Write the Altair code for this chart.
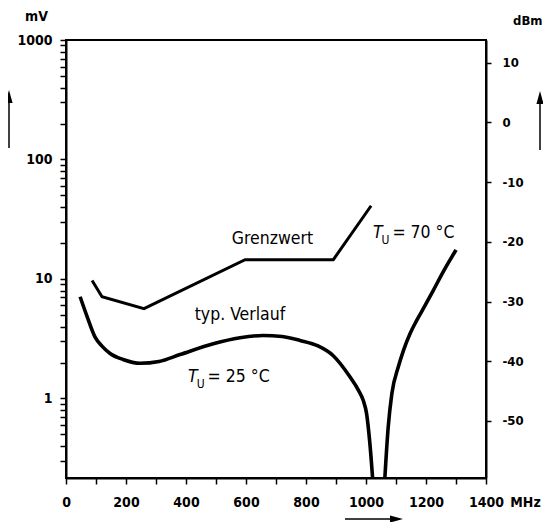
import altair as alt
import pandas as pd

# ---- data ----
grenz_mhz = [87, 120, 260, 597, 891, 1017]
grenz_mv = [9.7, 7.1, 5.65, 14.5, 14.5, 41]

typ_left_mhz = [47, 71, 97, 120, 147, 190, 247, 310, 380, 491, 580, 657, 720,
                780, 840, 890, 947, 975, 991, 1002, 1013, 1025]
typ_left_mv = [7.1, 4.8, 3.26, 2.74, 2.38, 2.12, 1.97, 2.04, 2.33, 2.87, 3.22, 3.37, 3.30,
               3.06, 2.75, 2.29, 1.51, 1.17, 0.96, 0.745, 0.418, 0.17]
typ_right_mhz = [1061, 1074, 1086, 1108, 1125, 1147, 1169, 1197, 1224, 1260, 1300]
typ_right_mv = [0.18, 0.575, 1.09, 1.85, 2.53, 3.5, 4.5, 6.0, 8.0, 11.8, 17.5]

x_ticks = list(range(0, 1500, 100))
mv_ticks = [0.3, 0.4, 0.5, 0.6, 0.7, 0.8, 0.9] + [m * k for m in [1, 10, 100] for k in range(1, 10)] + [1000]
dbm_ticks = [10, 0, -10, -20, -30, -40, -50]

label_text = ["Grenzwert", "typ. Verlauf"]
label_mhz = [688, 580]
label_mv = [21.8, 4.95]

temp_text = ["= 25 °C", "= 70 °C"]
temp_t_mhz = [407, 1023]
temp_u_mhz = [436, 1052]
temp_rest_mhz = [472, 1088]
temp_t_mv = [1.5, 24.3]
temp_u_mv = [1.31, 21.4]

FONT = "DejaVu Sans Condensed"

df_grenz = pd.DataFrame({"f": grenz_mhz, "v": grenz_mv})
df_typ = pd.concat([
    pd.DataFrame({"f": typ_left_mhz, "v": typ_left_mv, "seg": "a"}),
    pd.DataFrame({"f": typ_right_mhz, "v": typ_right_mv, "seg": "b"}),
])
df_lab = pd.DataFrame({"f": label_mhz, "v": label_mv, "t": label_text})
df_T = pd.DataFrame({"f": temp_t_mhz, "v": temp_t_mv, "t": ["T", "T"]})
df_U = pd.DataFrame({"f": temp_u_mhz, "v": temp_u_mv, "t": ["U", "U"]})
df_R = pd.DataFrame({"f": temp_rest_mhz, "v": temp_t_mv, "t": temp_text})
df_one = pd.DataFrame({"a": [0]})
df_dbm = pd.DataFrame({"d": dbm_ticks})

xs = alt.Scale(domain=[0, 1400], nice=False, zero=False)
ys = alt.Scale(type="log", domain=[0.216, 1000], nice=False)

X = alt.X("f:Q", scale=xs, axis=alt.Axis(
    values=x_ticks, tickSize=6, labelPadding=11, labelFlush=False, labelOverlap=False,
    labelExpr="datum.value % 200 == 0 ? format(datum.value, 'd') : ''",
    title="MHz", titleAngle=0, titleX=459, titleY=24, titleAlign="center", titleBaseline="middle"))
Y = alt.Y("v:Q", scale=ys, axis=alt.Axis(
    values=mv_ticks, tickSize=6, labelPadding=8, labelOverlap=False,
    labelExpr="datum.value == 1 || datum.value == 10 || datum.value == 100 || datum.value == 1000 ? format(datum.value, 'd') : ''",
    title="mV", titleAngle=0, titleX=-30, titleY=-24, titleAlign="center", titleBaseline="middle"))

grenz = alt.Chart(df_grenz).mark_line(color="black", strokeWidth=3, clip=True).encode(x=X, y=Y)
typ = alt.Chart(df_typ).mark_line(color="black", strokeWidth=3.6, interpolate="monotone",
                                  clip=True).encode(x=X, y=Y, detail="seg:N")
labs = alt.Chart(df_lab).mark_text(font=FONT, fontSize=17.5, color="black", align="center",
                                   baseline="middle").encode(x=X, y=Y, text="t:N")
tT = alt.Chart(df_T).mark_text(font=FONT, fontSize=17.5, fontStyle="italic", color="black",
                               align="left", baseline="middle").encode(x=X, y=Y, text="t:N")
tU = alt.Chart(df_U).mark_text(font=FONT, fontSize=12, color="black",
                               align="left", baseline="middle").encode(x=X, y=Y, text="t:N")
tR = alt.Chart(df_R).mark_text(font=FONT, fontSize=17.5, color="black",
                               align="left", baseline="middle").encode(x=X, y=Y, text="t:N")

up_head = "M0,-1L0.55,1L-0.55,1Z"
right_head = "M1,0L-1,-0.55L-1,0.55Z"
arr_l = alt.Chart(df_one).mark_rule(color="black", strokeWidth=1.5).encode(
    x=alt.value(-57), y=alt.value(62), y2=alt.value(108))
head_l = alt.Chart(df_one).mark_point(shape=up_head, filled=True, size=169, color="black",
                                      opacity=1).encode(x=alt.value(-57), y=alt.value(56.5))
arr_r = alt.Chart(df_one).mark_rule(color="black", strokeWidth=1.5).encode(
    x=alt.value(474), y=alt.value(62), y2=alt.value(110))
head_r = alt.Chart(df_one).mark_point(shape=up_head, filled=True, size=169, color="black",
                                      opacity=1).encode(x=alt.value(474), y=alt.value(57.5))
arr_b = alt.Chart(df_one).mark_rule(color="black", strokeWidth=1.5).encode(
    x=alt.value(279), x2=alt.value(326), y=alt.value(479))
head_b = alt.Chart(df_one).mark_point(shape=right_head, filled=True, size=169, color="black",
                                      opacity=1).encode(x=alt.value(330.5), y=alt.value(479))

main = alt.layer(grenz, typ, labs, tT, tU, tR, arr_l, head_l, arr_r, head_r, arr_b, head_b)

dbm = alt.Chart(df_dbm).mark_point(opacity=0).encode(
    y=alt.Y("d:Q", scale=alt.Scale(domain=[-59.55, 13.81], nice=False, zero=False),
            axis=alt.Axis(orient="right", values=dbm_ticks, tickSize=5, labelPadding=11,
                          labelFontSize=13,
                          labelExpr="datum.value < 0 ? '-' + format(-datum.value, 'd') : format(datum.value, 'd')",
                          title="dBm", titleAngle=0, titleX=56, titleY=-20, titleFontSize=13,
                          titleAlign="right", titleBaseline="middle")))

chart = alt.layer(main, dbm).resolve_scale(y="independent").properties(
    width=420, height=438,
    autosize=alt.AutoSizeParams(type="none"),
    padding={"left": 58, "top": 32, "right": 57, "bottom": 44},
).configure_view(stroke="black", strokeWidth=2).configure_axis(
    grid=False, domainColor="black", domainWidth=2, tickColor="black", tickWidth=1.5,
    labelFont=FONT, labelFontSize=14, labelFontWeight="bold", labelColor="black",
    titleFont=FONT, titleFontSize=14, titleFontWeight="bold", titleColor="black",
)

chart.save("out.html", embed_options={"renderer": "svg", "actions": False})
